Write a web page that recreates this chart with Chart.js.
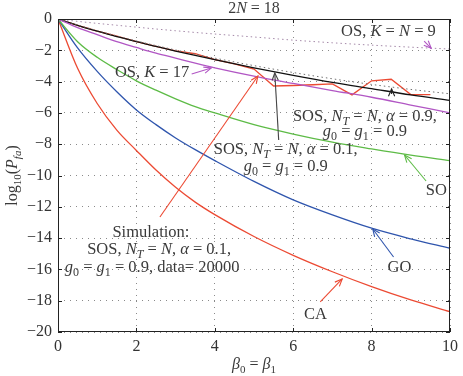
<!DOCTYPE html>
<html><head><meta charset="utf-8">
<script src="https://cdn.jsdelivr.net/npm/chart.js@4.4.0/dist/chart.umd.min.js"></script>
<style>html,body{margin:0;padding:0;background:#fff;}canvas{display:block;}</style>
</head><body>
<canvas id="c" width="463" height="376"></canvas>
<script>
// ---- data ----
const xTicks = [0, 2, 4, 6, 8, 10];
const yTicks = [0, -2, -4, -6, -8, -10, -12, -14, -16, -18, -20];
const beta = [0, 0.5, 1, 1.5, 2, 2.5, 3, 3.5, 4, 5, 6, 7, 8, 9, 10];
const caVals    = [0, -3.15, -5.4, -7.1, -8.4, -9.65, -10.75, -11.7, -12.5, -13.9, -15.1, -16.15, -17.1, -17.95, -18.7];
const goVals    = [0, -1.85, -3.35, -4.65, -5.81, -6.75, -7.6, -8.35, -9.05, -10.38, -11.56, -12.52, -13.37, -14.05, -14.65];
const soVals    = [0, -1.45, -2.45, -3.23, -3.95, -4.55, -5.1, -5.6, -6.0, -6.75, -7.35, -7.87, -8.3, -8.7, -9.05];
const osK17Vals = [0, -0.55, -1.0, -1.45, -1.82, -2.18, -2.5, -2.82, -3.12, -3.65, -4.12, -4.57, -5.0, -5.5, -6.0];
const sosA01Vals= [0, -0.4, -0.78, -1.12, -1.45, -1.75, -2.05, -2.33, -2.6, -3.12, -3.6, -4.05, -4.45, -4.85, -5.2];
const sosA09Vals= [0, -0.38, -0.74, -1.08, -1.4, -1.7, -1.98, -2.25, -2.5, -2.98, -3.42, -3.82, -4.18, -4.5, -4.78];
const osK9Vals  = [0, -0.15, -0.28, -0.4, -0.52, -0.64, -0.75, -0.86, -0.96, -1.15, -1.35, -1.52, -1.67, -1.8, -1.92];
const simX = [0, 0.5, 1, 1.5, 2, 2.5, 3, 3.5, 4, 4.5, 5, 5.5, 6, 6.5, 7, 7.5, 8, 8.5, 9, 9.5];
const simY = [0, -0.4, -0.78, -1.1, -1.45, -1.75, -2.03, -2.22, -2.6, -2.87, -3.2, -4.28, -4.25, -4.2, -4.15, -4.85, -3.95, -3.85, -4.83, -4.83];

const FAM = '"Liberation Serif", "Times New Roman", serif';
const TXT = '#3a3a3a';
const RED = '#ec4a33', BLUE = '#2f55ad', GREEN = '#5dbb46', MAG = '#b156c4';
const LBL = 16.5, TICK = 16;

const pts = (xs, ys) => xs.map((x, i) => ({x, y: ys[i]}));

// annotation text (data coordinates)
const labels = [
  {x: 8.43, y: -0.83, segs: [['OS, ',''],['K','i'],[' = ',''],['N','i'],[' = 9','']]},
  {x: 2.40, y: -3.45, segs: [['OS, ',''],['K','i'],[' = 17','']]},
  {x: 7.83, y: -6.26, segs: [['SOS, ',''],['N','i'],['T','is'],[' = ',''],['N','i'],[', ',''],['α','i'],[' = 0.9,','']]},
  {x: 7.83, y: -7.22, segs: [['g','i'],['0','s'],[' = ',''],['g','i'],['1','s'],[' = 0.9','']]},
  {x: 5.81, y: -8.37, segs: [['SOS, ',''],['N','i'],['T','is'],[' = ',''],['N','i'],[', ',''],['α','i'],[' = 0.1,','']]},
  {x: 5.81, y: -9.46, segs: [['g','i'],['0','s'],[' = ',''],['g','i'],['1','s'],[' = 0.9','']]},
  {x: 9.65, y: -10.99, segs: [['SO','']]},
  {x: 8.71, y: -15.91, segs: [['GO','']]},
  {x: 6.57, y: -18.91, segs: [['CA','']]},
  {x: 2.37, y: -13.67, segs: [['Simulation:','']]},
  {x: 2.58, y: -14.76, segs: [['SOS, ',''],['N','i'],['T','is'],[' = ',''],['N','i'],[', ',''],['α','i'],[' = 0.1,','']]},
  {x: 2.40, y: -15.91, segs: [['g','i'],['0','s'],[' = ',''],['g','i'],['1','s'],[' = 0.9, data= 20000','']]}
];
const arrows = [
  {x1: 3.41, y1: -3.51, x2: 3.91, y2: -3.13, c: MAG},
  {x1: 9.34, y1: -1.41, x2: 9.52, y2: -1.87, c: MAG},
  {x1: 5.63, y1: -7.73, x2: 5.53, y2: -3.45, c: '#444'},
  {x1: 8.51, y1: -4.79, x2: 8.51, y2: -4.47, c: '#222'},
  {x1: 9.39, y1: -10.35, x2: 8.84, y2: -8.69, c: GREEN},
  {x1: 8.56, y1: -15.21, x2: 8.03, y2: -13.42, c: BLUE},
  {x1: 6.69, y1: -18.08, x2: 7.25, y2: -16.61, c: RED},
  {x1: 2.60, y1: -12.65, x2: 5.10, y2: -3.64, c: RED}
];

function fontFor(style, size) {
  const it = style.indexOf('i') >= 0, sub = style.indexOf('s') >= 0;
  return (it ? 'italic ' : '') + (sub ? Math.round(size * 0.7) : size) + 'px ' + FAM;
}
function drawRich(ctx, segs, cx, cy, size, color) {
  ctx.save();
  ctx.fillStyle = color;
  ctx.textBaseline = 'middle';
  ctx.textAlign = 'left';
  let w = 0;
  const ws = segs.map(s => { ctx.font = fontFor(s[1], size); const m = ctx.measureText(s[0]).width; w += m; return m; });
  let x = cx - w / 2;
  segs.forEach((s, i) => {
    ctx.font = fontFor(s[1], size);
    const dy = s[1].indexOf('s') >= 0 ? size * 0.3 : 0;
    ctx.fillText(s[0], x, cy + dy);
    x += ws[i];
  });
  ctx.restore();
}
function drawArrow(ctx, x1, y1, x2, y2, color) {
  const a = Math.atan2(y2 - y1, x2 - x1), L = 8, sp = 0.4;
  ctx.save();
  ctx.strokeStyle = color; ctx.lineWidth = 1.1;
  ctx.beginPath(); ctx.moveTo(x1, y1); ctx.lineTo(x2, y2); ctx.stroke();
  ctx.beginPath();
  ctx.moveTo(x2 - L * Math.cos(a - sp), y2 - L * Math.sin(a - sp));
  ctx.lineTo(x2, y2);
  ctx.lineTo(x2 - L * Math.cos(a + sp), y2 - L * Math.sin(a + sp));
  ctx.stroke();
  ctx.restore();
}

const decor = {
  id: 'decor',
  afterDatasetsDraw(chart) {
    const {ctx, chartArea: ca, scales: {x, y}} = chart;
    ctx.save();
    ctx.strokeStyle = '#222'; ctx.lineWidth = 1;
    ctx.strokeRect(Math.round(ca.left) + 0.5, Math.round(ca.top) + 0.5, Math.round(ca.right - ca.left) - 1, Math.round(ca.bottom - ca.top) - 1);
    ctx.beginPath();
    xTicks.forEach(v => { const px = Math.round(x.getPixelForValue(v)) + 0.5;
      ctx.moveTo(px, ca.bottom); ctx.lineTo(px, ca.bottom - 4);
      ctx.moveTo(px, ca.top); ctx.lineTo(px, ca.top + 4); });
    yTicks.forEach(v => { const py = Math.round(y.getPixelForValue(v)) + 0.5;
      ctx.moveTo(ca.left, py); ctx.lineTo(ca.left + 4, py);
      ctx.moveTo(ca.right, py); ctx.lineTo(ca.right - 4, py); });
    ctx.stroke();
    ctx.restore();
    arrows.forEach(a => drawArrow(ctx, x.getPixelForValue(a.x1), y.getPixelForValue(a.y1), x.getPixelForValue(a.x2), y.getPixelForValue(a.y2), a.c));
    labels.forEach(l => drawRich(ctx, l.segs, x.getPixelForValue(l.x), y.getPixelForValue(l.y), LBL, TXT));
    const midX = (ca.left + ca.right) / 2;
    drawRich(ctx, [['2',''],['N','i'],[' = 18','']], midX, 9, 16, TXT);
    drawRich(ctx, [['β','i'],['0','s'],[' = ',''],['β','i'],['1','s']], midX, 365, 16, TXT);
    ctx.save();
    ctx.translate(13, (ca.top + ca.bottom) / 2);
    ctx.rotate(-Math.PI / 2);
    drawRich(ctx, [['log',''],['10','s'],['(',''],['P','i'],['fa','is'],[')','']], 0, 0, 16, TXT);
    ctx.restore();
  }
};

const line = (label, data, color, extra) => Object.assign({
  label, data, borderColor: color, borderWidth: 1.3, pointRadius: 0,
  cubicInterpolationMode: 'monotone', fill: false
}, extra || {});

new Chart(document.getElementById('c'), {
  type: 'line',
  data: {
    datasets: [
      line('OS, K = N = 9', pts(beta, osK9Vals), '#a488a8', {borderDash: [1.5, 3], borderWidth: 1}),
      line('SOS α = 0.9', pts(beta, sosA09Vals), '#707070', {borderDash: [1.5, 3], borderWidth: 1}),
      line('OS, K = 17', pts(beta, osK17Vals), MAG),
      line('SO', pts(beta, soVals), GREEN),
      line('GO', pts(beta, goVals), BLUE),
      line('CA', pts(beta, caVals), RED),
      line('SOS α = 0.1', pts(beta, sosA01Vals), '#111111'),
      line('Simulation', pts(simX, simY), RED, {cubicInterpolationMode: 'default', tension: 0})
    ]
  },
  options: {
    responsive: false,
    animation: false,
    devicePixelRatio: 1,
    layout: {padding: {left: 0, right: 9, top: 19, bottom: 0}},
    plugins: {legend: {display: false}, tooltip: {enabled: false}, title: {display: false}},
    scales: {
      x: {
        type: 'linear', min: 0, max: 10,
        afterBuildTicks: s => { s.ticks = xTicks.map(v => ({value: v})); },
        afterFit: s => { s.height = 44; },
        ticks: {font: {family: FAM, size: TICK}, color: '#333', padding: 5, maxRotation: 0,
          callback: v => String(v).replace('-', '\u2212')},
        grid: {color: '#8a8a8a', lineWidth: 1, drawTicks: false},
        border: {display: false, dash: [1, 5]}
      },
      y: {
        type: 'linear', min: -20, max: 0,
        afterBuildTicks: s => { s.ticks = yTicks.map(v => ({value: v})); },
        afterFit: s => { s.width = 58; },
        ticks: {font: {family: FAM, size: TICK}, color: '#333', padding: 6,
          callback: v => String(v).replace('-', '\u2212')},
        grid: {color: '#8a8a8a', lineWidth: 1, drawTicks: false},
        border: {display: false, dash: [1, 5]}
      }
    }
  },
  plugins: [decor]
});
</script>
</body></html>
